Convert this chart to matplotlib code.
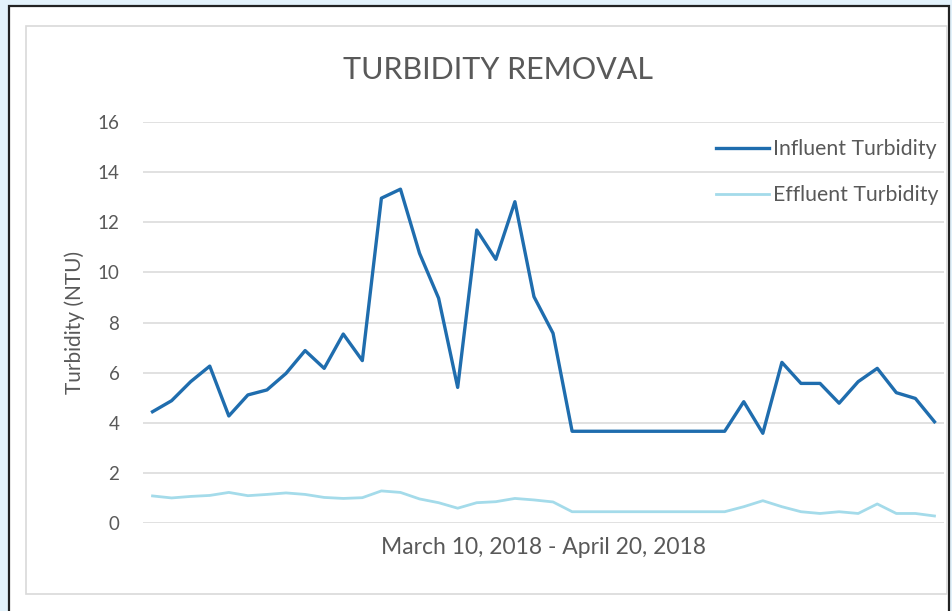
import matplotlib.pyplot as plt
from matplotlib.patches import Rectangle

# Daily readings, March 10 - April 20, 2018 (42 days)
days = list(range(42))
influent = [4.44, 4.88, 5.64, 6.26, 4.27, 5.11, 5.31, 5.97, 6.88, 6.17,
            7.54, 6.48, 12.96, 13.32, 10.76, 8.97, 5.41, 11.69, 10.52, 12.82,
            9.03, 7.57, 3.66, 3.66, 3.66, 3.66, 3.66, 3.66, 3.66, 3.66,
            3.66, 4.84, 3.58, 6.41, 5.57, 5.57, 4.78, 5.64, 6.17, 5.2,
            4.97, 4.04]
effluent = [1.08, 1.0, 1.06, 1.1, 1.22, 1.09, 1.14, 1.2, 1.14, 1.02,
            0.98, 1.01, 1.28, 1.22, 0.96, 0.81, 0.59, 0.81, 0.85, 0.98,
            0.92, 0.84, 0.45, 0.45, 0.45, 0.45, 0.45, 0.45, 0.45, 0.45,
            0.45, 0.65, 0.89, 0.65, 0.45, 0.38, 0.45, 0.38, 0.76, 0.38,
            0.38, 0.28]
y_ticks = [0, 2, 4, 6, 8, 10, 12, 14, 16]

W, H = 953, 611
TEXT_COLOR = "#595959"
INFLUENT_COLOR = "#1f6dae"
EFFLUENT_COLOR = "#a4dbea"

plt.rcParams["font.family"] = ["Lato", "DejaVu Sans"]


def fx(px):
    return px / W


def fy(py):
    return 1 - py / H


fig = plt.figure(figsize=(W / 100, H / 100), dpi=100, facecolor="#e3f2fb")

# outer frame (black) and chart area (gray border), kept behind the axes
fig.patches.append(Rectangle((fx(9.5), fy(620)), fx(949) - fx(9.5), fy(6) - fy(620),
                             transform=fig.transFigure, facecolor="white",
                             edgecolor="#222222", linewidth=1.6, zorder=-2))
fig.patches.append(Rectangle((fx(26), fy(594)), fx(947) - fx(26), fy(25.5) - fy(594),
                             transform=fig.transFigure, facecolor="white",
                             edgecolor="#d9d9d9", linewidth=1.2, zorder=-1))

ax = fig.add_axes([fx(143), fy(523), fx(944) - fx(143), fy(122) - fy(523)])
ax.set_facecolor("none")

ax.plot(days, influent, color=INFLUENT_COLOR, linewidth=2.4,
        label="Influent Turbidity")
ax.plot(days, effluent, color=EFFLUENT_COLOR, linewidth=2.0,
        label="Effluent Turbidity")

ax.set_xlim(-0.5, 41.5)
ax.set_ylim(0, 16)
ax.set_yticks(y_ticks)
ax.set_xticks([])
ax.grid(axis="y", color="#d9d9d9", linewidth=1.1)
ax.set_axisbelow(True)
for side in ["top", "right", "left", "bottom"]:
    ax.spines[side].set_visible(False)
ax.tick_params(axis="y", length=0, pad=17, labelsize=13.5, labelcolor=TEXT_COLOR)

ax.set_ylabel("Turbidity (NTU)", fontsize=15, color=TEXT_COLOR, labelpad=9)
ax.set_xlabel("March 10, 2018 - April 20, 2018", fontsize=16.5,
              color=TEXT_COLOR, labelpad=10)

fig.text(fx(498), fy(70), "TURBIDITY REMOVAL", ha="center", va="center",
         fontsize=22, color=TEXT_COLOR)

ax.legend(loc="upper left", bbox_to_anchor=(fx(707), fy(131)),
          bbox_transform=fig.transFigure, frameon=False, fontsize=15.3,
          handlelength=2.5, handletextpad=0.2, labelspacing=1.22,
          borderaxespad=0, labelcolor=TEXT_COLOR)

fig.savefig("out.png", dpi=100, facecolor=fig.get_facecolor())
